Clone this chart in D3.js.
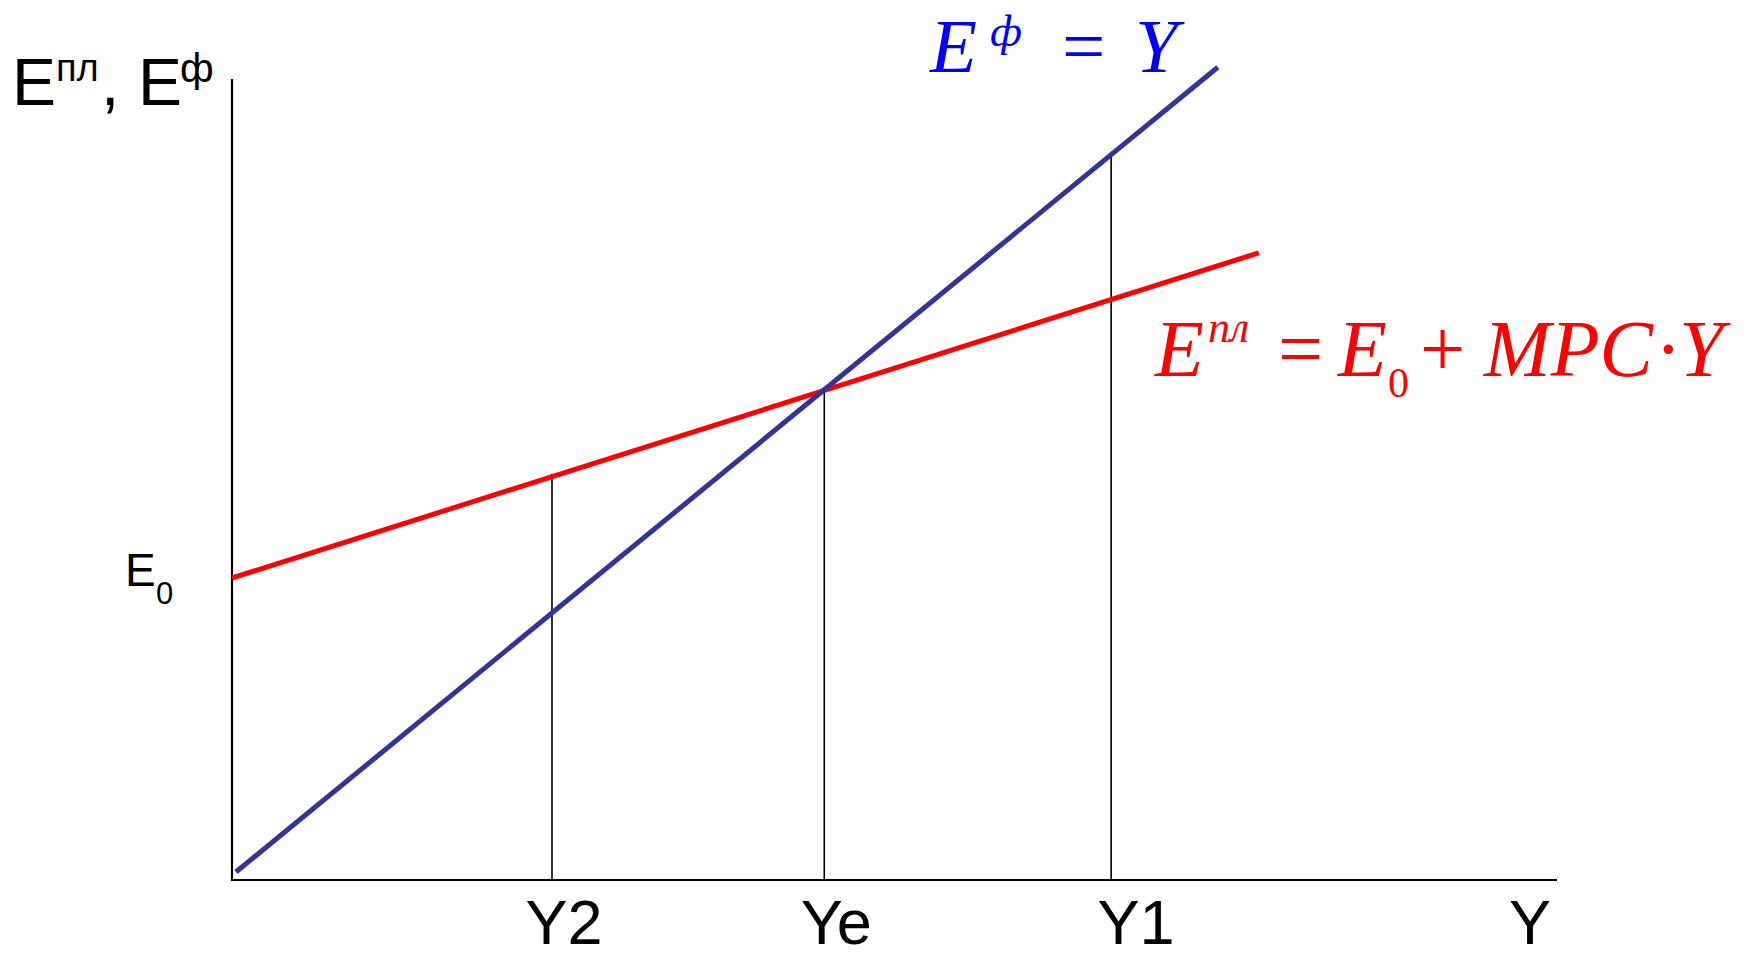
<!DOCTYPE html>
<html>
<head>
<meta charset="utf-8">
<script src="https://cdn.jsdelivr.net/npm/d3@7"></script>
<style>
  body { margin: 0; background: #fff; }
  svg { display: block; }
  .axis-line { stroke: #000; stroke-width: 2.2; }
  .drop { stroke: #000; stroke-width: 1.6; }
  .lbl { font-family: "Liberation Sans", Arial, sans-serif; fill: #000; }
  .math { font-family: "Liberation Serif", "Times New Roman", serif; }
</style>
</head>
<body>
<div id="chart"></div>
<script>
// Keynesian cross: planned vs actual expenditure
// line endpoints in chart units (x: output Y, y: expenditure E)
const plannedX = [0, 77.5];
const plannedY = [37.75, 78.4];
const actualX = [0.3, 74.4];
const actualY = [1.0, 101.6];

// output levels marked on the x axis
const markerLabels = ["Y2", "Ye", "Y1"];
const markerValues = [24.15, 44.7, 66.35];

const xDomain = [0, 100];
const yDomain = [0, 100];

const width = 1756, height = 957;
const margin = {top: 80, right: 199, bottom: 77, left: 232};

const svg = d3.select("#chart").append("svg")
    .attr("width", width)
    .attr("height", height);

const x = d3.scaleLinear().domain(xDomain).range([margin.left, width - margin.right]);
const y = d3.scaleLinear().domain(yDomain).range([height - margin.bottom, margin.top]);

// value of a straight line at xv
function lineAt(xs, ys, xv) {
    return ys[0] + (ys[1] - ys[0]) * (xv - xs[0]) / (xs[1] - xs[0]);
}

// axes (plain lines, no ticks)
svg.append("line").attr("class", "axis-line")
    .attr("x1", x(0)).attr("x2", x(0))
    .attr("y1", y(yDomain[1]) - 1).attr("y2", y(0) + 1);
svg.append("line").attr("class", "axis-line")
    .attr("x1", x(0) - 1).attr("x2", x(xDomain[1]))
    .attr("y1", y(0)).attr("y2", y(0));

// vertical drop lines up to the higher of the two lines
svg.selectAll("line.drop")
    .data(markerValues)
    .enter().append("line")
    .attr("class", "drop")
    .attr("x1", d => x(d)).attr("x2", d => x(d))
    .attr("y1", y(0))
    .attr("y2", d => y(Math.max(lineAt(plannedX, plannedY, d), lineAt(actualX, actualY, d))) - 3);

const line = d3.line().x(d => x(d[0])).y(d => y(d[1]));

svg.append("path")
    .datum(d3.zip(plannedX, plannedY))
    .attr("d", line)
    .attr("fill", "none")
    .attr("stroke", "#ff0000")
    .attr("stroke-width", 5);

svg.append("path")
    .datum(d3.zip(actualX, actualY))
    .attr("d", line)
    .attr("fill", "none")
    .attr("stroke", "#333399")
    .attr("stroke-width", 5);

// x axis labels (sit a little right of their drop line)
const labelShift = [12, 12, 25];
svg.selectAll("text.mk")
    .data(markerLabels)
    .enter().append("text")
    .attr("class", "lbl mk")
    .attr("x", (d, i) => x(markerValues[i]) + labelShift[i])
    .attr("y", 944)
    .attr("text-anchor", "middle")
    .attr("font-size", 63)
    .text(d => d);

svg.append("text").attr("class", "lbl")
    .attr("x", 1530).attr("y", 944)
    .attr("text-anchor", "middle")
    .attr("font-size", 63)
    .text("Y");

// y axis title: Eпл, Eф
const yt = svg.append("text").attr("class", "lbl").attr("font-size", 66);
yt.append("tspan").attr("x", 12).attr("y", 105).text("E");
yt.append("tspan").attr("x", 56).attr("y", 81).attr("font-size", 38).text("пл");
yt.append("tspan").attr("x", 101).attr("y", 105).text(",");
yt.append("tspan").attr("x", 138).attr("y", 105).text("E");
yt.append("tspan").attr("x", 180).attr("y", 82).attr("font-size", 41).text("ф");

// E0 mark on the y axis
const e0 = svg.append("text").attr("class", "lbl").attr("font-size", 46);
e0.append("tspan").attr("x", 125).attr("y", 586).text("E");
e0.append("tspan").attr("x", 156).attr("y", 604).attr("font-size", 31).text("0");

// blue formula: Eф = Y
const bf = svg.append("text").attr("class", "math").attr("fill", "#0000ff").attr("font-size", 77);
bf.append("tspan").attr("x", 930).attr("y", 72).attr("font-style", "italic").text("E");
bf.append("tspan").attr("x", 990).attr("y", 46).attr("font-size", 45).attr("font-style", "italic").text("ф");
bf.append("tspan").attr("x", 1062).attr("y", 72).text("=");
bf.append("tspan").attr("x", 1135).attr("y", 72).attr("font-style", "italic").text("Y");

// red formula: Eпл = E0 + MPC·Y
const rf = svg.append("text").attr("class", "math").attr("fill", "#ff0000").attr("font-size", 80);
rf.append("tspan").attr("x", 1155).attr("y", 376).attr("font-style", "italic").text("E");
rf.append("tspan").attr("x", 1208).attr("y", 342).attr("font-size", 44).attr("font-style", "italic").text("пл");
rf.append("tspan").attr("x", 1278).attr("y", 376).text("=");
rf.append("tspan").attr("x", 1338).attr("y", 376).attr("font-style", "italic").text("E");
rf.append("tspan").attr("x", 1388).attr("y", 397).attr("font-size", 42).text("0");
rf.append("tspan").attr("x", 1420).attr("y", 376).text("+");
rf.append("tspan").attr("x", 1484).attr("y", 376).attr("font-style", "italic").text("MPC");
rf.append("tspan").attr("x", 1655).attr("y", 376).text("·");
rf.append("tspan").attr("x", 1679).attr("y", 376).attr("font-style", "italic").text("Y");
</script>
</body>
</html>
